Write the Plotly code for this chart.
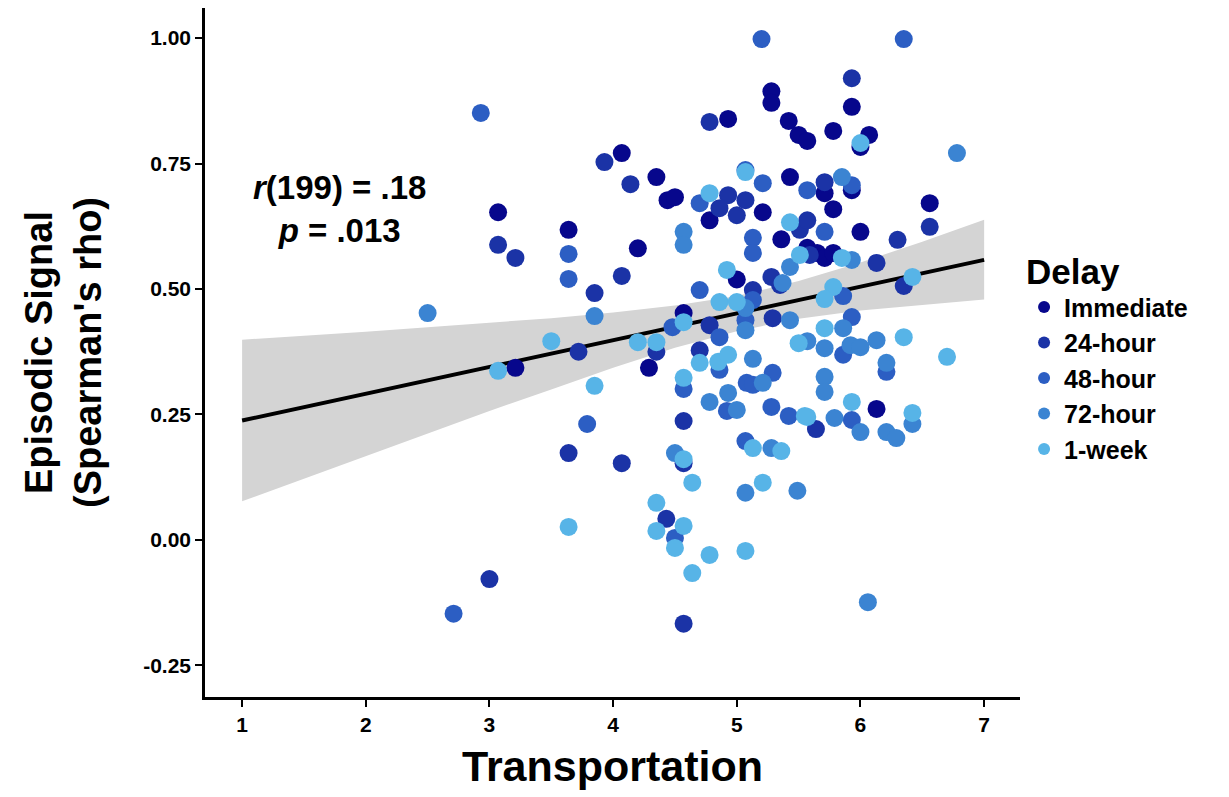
import plotly.graph_objects as go

# ---------------- data ----------------
delays = ["Immediate", "24-hour", "48-hour", "72-hour", "1-week"]
colors = ["#07078c", "#1b33a6", "#2c5ec3", "#3b84d2", "#57b4e7"]

imm_x = [3.07, 3.64, 3.21, 4.07, 4.20, 4.35, 4.44, 4.50, 4.29, 4.57, 4.78, 4.93, 5.00, 5.21,
         5.28, 5.28, 5.43, 5.42, 5.50, 5.57, 5.36, 5.78, 5.71, 5.93, 5.78, 5.93, 6.07, 6.00,
         6.00, 6.56, 5.57, 5.65, 5.71, 5.78, 6.13]
imm_y = [0.653, 0.618, 0.343, 0.771, 0.581, 0.723, 0.677, 0.683, 0.343, 0.452, 0.637, 0.839, 0.519, 0.653,
         0.894, 0.871, 0.723, 0.835, 0.807, 0.795, 0.599, 0.815, 0.691, 0.697, 0.659, 0.863, 0.807, 0.783,
         0.614, 0.671, 0.582, 0.572, 0.562, 0.572, 0.261]

h24_x = [3.07, 3.21, 3.85, 3.72, 3.64, 4.07, 3.00, 3.93, 4.14, 4.07, 4.78, 4.93, 5.07, 4.86, 5.00,
         5.51, 5.57, 5.71, 5.93, 6.56, 6.30, 5.28, 5.35, 5.13, 6.13, 6.35, 5.59, 5.29, 4.78, 4.70,
         4.35, 4.57, 4.57, 4.43, 4.57, 5.64]
h24_y = [0.588, 0.562, 0.492, 0.375, 0.173, 0.153, -0.078, 0.753, 0.709, 0.526, 0.833, 0.687, 0.677, 0.661, 0.647,
         0.618, 0.637, 0.713, 0.920, 0.624, 0.598, 0.524, 0.508, 0.498, 0.552, 0.506, 0.568, 0.442, 0.428, 0.378,
         0.375, 0.237, 0.153, 0.042, -0.167, 0.221]

h48_x = [2.93, 3.64, 3.64, 3.79, 2.71, 5.20, 6.35, 4.70, 5.21, 5.57, 5.93, 5.13, 5.13, 5.71, 4.70,
         5.13, 4.48, 4.86, 5.07, 5.86, 5.93, 5.86, 4.57, 4.86, 5.08, 5.13, 5.29, 4.92, 5.28, 5.42,
         5.07, 5.93, 6.21, 4.50, 5.07]
h48_y = [0.851, 0.570, 0.520, 0.231, -0.147, 0.998, 0.998, 0.671, 0.711, 0.697, 0.707, 0.602, 0.572, 0.614, 0.498,
         0.478, 0.424, 0.404, 0.438, 0.486, 0.444, 0.369, 0.301, 0.339, 0.313, 0.309, 0.333, 0.257, 0.265, 0.247,
         0.197, 0.239, 0.335, 0.004, 0.737]

h72_x = [2.50, 3.85, 6.78, 5.85, 4.57, 4.57, 5.43, 5.37, 5.93, 5.07, 5.07, 5.43, 5.86, 5.57, 5.71,
         5.92, 6.00, 6.13, 5.13, 6.21, 5.71, 5.71, 5.21, 4.78, 4.93, 5.00, 5.79, 6.00, 6.21, 6.29,
         6.42, 4.50, 5.28, 5.07, 5.49, 6.06]
h72_y = [0.452, 0.446, 0.771, 0.723, 0.614, 0.588, 0.544, 0.512, 0.558, 0.462, 0.418, 0.438, 0.422, 0.396, 0.382,
         0.388, 0.384, 0.398, 0.361, 0.353, 0.325, 0.295, 0.313, 0.275, 0.293, 0.259, 0.243, 0.215, 0.215, 0.203,
         0.231, 0.173, 0.183, 0.094, 0.098, -0.124]

wk_x = [3.50, 3.07, 3.85, 3.64, 5.07, 4.78, 5.43, 6.00, 4.92, 5.51, 5.85, 4.86, 5.00, 4.57, 4.20,
        4.35, 4.70, 4.85, 4.93, 4.57, 5.78, 5.71, 6.42, 5.71, 5.50, 6.35, 6.70, 5.93, 5.57, 6.42,
        4.57, 5.13, 5.36, 4.64, 5.21, 4.35, 4.35, 4.57, 4.50, 4.78, 5.07, 4.64, 5.55]
wk_y = [0.396, 0.337, 0.307, 0.026, 0.733, 0.691, 0.633, 0.791, 0.538, 0.568, 0.562, 0.474, 0.474, 0.434, 0.394,
        0.394, 0.353, 0.355, 0.369, 0.323, 0.504, 0.480, 0.524, 0.422, 0.392, 0.404, 0.365, 0.275, 0.245, 0.253,
        0.161, 0.183, 0.177, 0.114, 0.114, 0.074, 0.018, 0.028, -0.016, -0.030, -0.022, -0.066, 0.247]

series_x = [imm_x, h24_x, h48_x, h72_x, wk_x]
series_y = [imm_y, h24_y, h48_y, h72_y, wk_y]

# regression line and its confidence band
fit_x = [1, 2, 3, 3.5, 4, 4.5, 5, 5.5, 6, 6.5, 7]
fit_y = [0.238, 0.291, 0.345, 0.371, 0.398, 0.425, 0.451, 0.478, 0.505, 0.531, 0.558]
band_lo = [0.077, 0.167, 0.257, 0.300, 0.343, 0.383, 0.416, 0.441, 0.457, 0.468, 0.479]
band_hi = [0.399, 0.415, 0.433, 0.442, 0.453, 0.467, 0.486, 0.516, 0.553, 0.594, 0.638]

x_ticks = [1, 2, 3, 4, 5, 6, 7]
y_ticks = [-0.25, 0.0, 0.25, 0.5, 0.75, 1.0]
y_ticklabels = ["-0.25", "0.00", "0.25", "0.50", "0.75", "1.00"]

FONT = "Liberation Sans"

fig = go.Figure()

fig.add_trace(go.Scatter(x=fit_x, y=band_lo, mode="lines", line=dict(width=0),
                         showlegend=False, hoverinfo="skip"))
fig.add_trace(go.Scatter(x=fit_x, y=band_hi, mode="lines", line=dict(width=0),
                         fill="tonexty", fillcolor="#d4d4d4", showlegend=False, hoverinfo="skip"))
fig.add_trace(go.Scatter(x=fit_x, y=fit_y, mode="lines", line=dict(color="black", width=4),
                         showlegend=False, hoverinfo="skip"))

for name, col, xs, ys in zip(delays, colors, series_x, series_y):
    fig.add_trace(go.Scatter(x=xs, y=ys, mode="markers", name=name,
                             marker=dict(color=col, size=18, line=dict(width=0))))

fig.add_annotation(x=1.79, y=0.66, xref="x", yref="y",
                   text="<i>r</i>(199) = .18<br><i>p</i> = .013",
                   showarrow=False, align="center",
                   font=dict(family=FONT, size=33, color="black", weight="bold"))

fig.update_layout(
    width=1221, height=789,
    margin=dict(l=197, r=209, t=0, b=100),
    paper_bgcolor="white", plot_bgcolor="white",
    font=dict(family=FONT, color="black"),
    legend=dict(
        title=dict(text="Delay", font=dict(family=FONT, size=35, weight="bold")),
        font=dict(family=FONT, size=25, weight="bold"),
        x=1.005, xanchor="left", y=0.665, yanchor="top",
        itemsizing="constant", tracegroupgap=0, traceorder="normal",
        bgcolor="rgba(0,0,0,0)",
    ),
    xaxis=dict(
        range=[0.7, 7.29], tickmode="array", tickvals=x_ticks,
        showgrid=False, zeroline=False,
        showline=True, linecolor="black", linewidth=2.5,
        ticks="outside", ticklen=7, tickwidth=2, tickcolor="black",
        tickfont=dict(family=FONT, size=21, weight="bold", color="black"),
        title=dict(text="Transportation", standoff=16,
                   font=dict(family=FONT, size=43, weight="bold", color="black")),
    ),
    yaxis=dict(
        range=[-0.313, 1.06], tickmode="array", tickvals=y_ticks, ticktext=y_ticklabels,
        showgrid=False, zeroline=False,
        showline=True, linecolor="black", linewidth=2.5,
        ticks="outside", ticklen=7, tickwidth=2, tickcolor="black",
        tickfont=dict(family=FONT, size=21, weight="bold", color="black"),
        title=dict(text="Episodic Signal<br>(Spearman's rho)", standoff=30,
                   font=dict(family=FONT, size=38, weight="bold", color="black")),
    ),
)

fig.write_html("out.html")
